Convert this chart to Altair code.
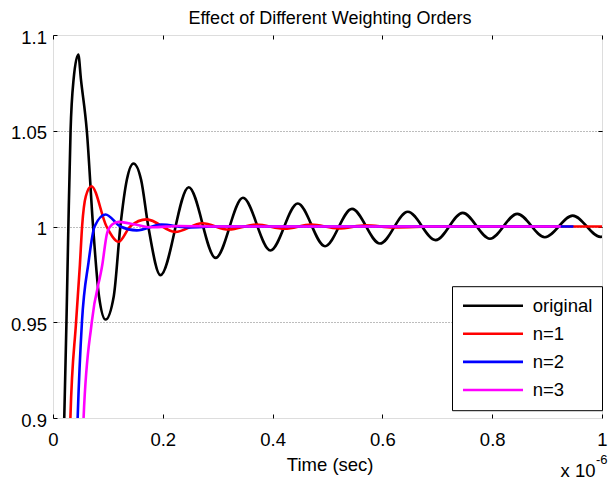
import altair as alt
import pandas as pd

# ---------------- data (time in units of 1e-6 s) ----------------
series_names = ["original", "n=1", "n=2", "n=3"]
series_colors = ["#000000", "#ff0000", "#0000ff", "#ff00ff"]

t_original = [0.012, 0.0205, 0.0245, 0.028, 0.032, 0.0375, 0.0461, 0.0509, 0.0616,
              0.073, 0.0838, 0.0957, 0.1107, 0.1227, 0.1346, 0.1466, 0.1604, 0.1736,
              0.1957, 0.2472, 0.2962, 0.346, 0.396, 0.4458, 0.4955, 0.5446, 0.5955,
              0.6463, 0.697, 0.7463, 0.7959, 0.8456, 0.8959, 0.9467, 0.997, 1.0]
y_original = [0.80, 0.90, 0.95, 1.00, 1.05, 1.0768, 1.0898, 1.0768, 1.05,
              1.00, 0.9636, 0.9514, 0.9636, 1.00, 1.0245, 1.0329, 1.0245, 1.00,
              0.9746, 1.0205, 0.9836, 1.015, 0.9875, 1.012, 0.9897, 1.0092, 0.9911,
              1.0077, 0.9929, 1.0071, 0.9936, 1.0066, 0.9944, 1.0057, 0.9946, 0.9947]

t_n1 = [0.024, 0.0317, 0.042, 0.049, 0.053, 0.0598, 0.070, 0.0975, 0.1197, 0.1406,
        0.1706, 0.2226, 0.272, 0.32, 0.371, 0.422, 0.47, 0.52, 0.57, 0.62, 0.70, 1.0]
y_n1 = [0.80, 0.90, 0.95, 0.98, 1.00, 1.0158, 1.021, 1.00, 0.992, 1.00,
        1.0037, 0.9972, 1.0017, 0.9984, 1.001, 0.9988, 1.001, 0.999, 1.0006, 0.9995, 1.0, 1.0]

t_n2 = [0.036, 0.0449, 0.0527, 0.0646, 0.0757, 0.0957, 0.1227, 0.1526, 0.1975, 0.245, 0.30, 0.948]
y_n2 = [0.80, 0.90, 0.95, 0.981, 1.00, 1.0063, 1.00, 0.998, 1.001, 0.9995, 1.0, 1.0]

t_n3 = [0.046, 0.0557, 0.0706, 0.0898, 0.0987, 0.1077, 0.1197, 0.15, 0.18, 0.23, 0.30, 0.925]
y_n3 = [0.80, 0.90, 0.95, 0.98, 0.9967, 1.001, 1.0024, 1.001, 0.9996, 1.0003, 1.0, 1.0]

x_ticks = [0, 0.2, 0.4, 0.6, 0.8, 1.0]
y_ticks = [0.9, 0.95, 1.0, 1.05, 1.1]
y_grid = [0.95, 1.0, 1.05]

title_text = "Effect of Different Weighting Orders"
x_title = "Time (sec)"
exp_base = ["x 10"]
exp_pow = ["-6"]

rows = []
for name, ts, ys in zip(series_names, [t_original, t_n1, t_n2, t_n3], [y_original, y_n1, y_n2, y_n3]):
    for t, y in zip(ts, ys):
        rows.append({"series": name, "t": t, "y": y})
df = pd.DataFrame(rows)

FONT = "Liberation Sans"
FS = 18.5

x_scale = alt.Scale(domain=[0, 1], nice=False, zero=False)
y_scale = alt.Scale(domain=[0.9, 1.1], nice=False, zero=False)

lines = alt.Chart(df).mark_line(strokeWidth=2.6, clip=True, interpolate="monotone").encode(
    x=alt.X("t:Q", scale=x_scale,
            axis=alt.Axis(orient="bottom", values=x_ticks, format="~g", grid=False, domain=False,
                          tickSize=4, offset=-4, tickColor="black", tickWidth=1,
                          labelPadding=12, labelFlush=False, labelFont=FONT, labelFontSize=FS,
                          labelColor="black", title=x_title, titleFont=FONT, titleFontSize=FS,
                          titleFontWeight="normal", titleColor="black", titleBaseline="alphabetic",
                          titleY=56.7, titleX=276.7)),
    y=alt.Y("y:Q", scale=y_scale,
            axis=alt.Axis(orient="left", values=y_ticks, format="~g", grid=False, domain=False,
                          tickSize=4, offset=-4, tickColor="black", tickWidth=1,
                          labelPadding=6.5, labelFlush=False, labelFont=FONT, labelFontSize=FS,
                          labelColor="black", labelOffset=2, title=None)),
    color=alt.Color("series:N", sort=series_names,
                    scale=alt.Scale(domain=series_names, range=series_colors),
                    legend=alt.Legend(orient="none", legendX=399, legendY=251.2,
                                      strokeColor="black", fillColor="white", padding=9.5,
                                      cornerRadius=0, symbolType="stroke", symbolSize=3600,
                                      symbolStrokeWidth=2.6, clipHeight=20, rowPadding=8.1,
                                      labelFont=FONT, labelFontSize=FS, labelColor="black",
                                      labelOffset=8.2, title=None)),
)

frame = alt.Chart(pd.DataFrame({"t": [0, 1], "y": [0.9, 1.1]})).mark_point(opacity=0).encode(
    x=alt.X("t:Q", scale=x_scale,
            axis=alt.Axis(orient="top", values=x_ticks, labels=False, grid=False, domain=False,
                          tickSize=4, offset=-4, tickColor="black", tickWidth=1, title=None)),
    y=alt.Y("y:Q", scale=y_scale,
            axis=alt.Axis(orient="right", values=y_grid, labels=False, grid=True,
                          gridColor="#7a7a7a", gridDash=[1, 2], gridWidth=1, domain=False,
                          tickSize=4, offset=-4, tickColor="black", tickWidth=1, title=None)),
)

base_txt = alt.Chart(pd.DataFrame({"txt": exp_base})).mark_text(
    align="right", baseline="alphabetic", font=FONT, fontSize=FS, color="black"
).encode(x=alt.value(542.5), y=alt.value(442), text="txt:N")

pow_txt = alt.Chart(pd.DataFrame({"txt": exp_pow})).mark_text(
    align="left", baseline="alphabetic", font=FONT, fontSize=13, color="black"
).encode(x=alt.value(543), y=alt.value(429), text="txt:N")

chart = alt.layer(lines, frame, base_txt, pow_txt).resolve_axis(
    x="independent", y="independent"
).properties(
    width=549, height=383,
    padding={"left": 45, "top": 27, "right": 6, "bottom": 62},
    autosize=alt.AutoSizeParams(type="none"),
    title=alt.TitleParams(text=title_text, font=FONT, fontSize=18, fontWeight="normal",
                          color="black", anchor="middle", offset=0, dx=2.5),
).configure_view(stroke="black", strokeWidth=1).configure(background="white")

chart.save("out.html", embed_options={"renderer": "svg", "actions": False})
